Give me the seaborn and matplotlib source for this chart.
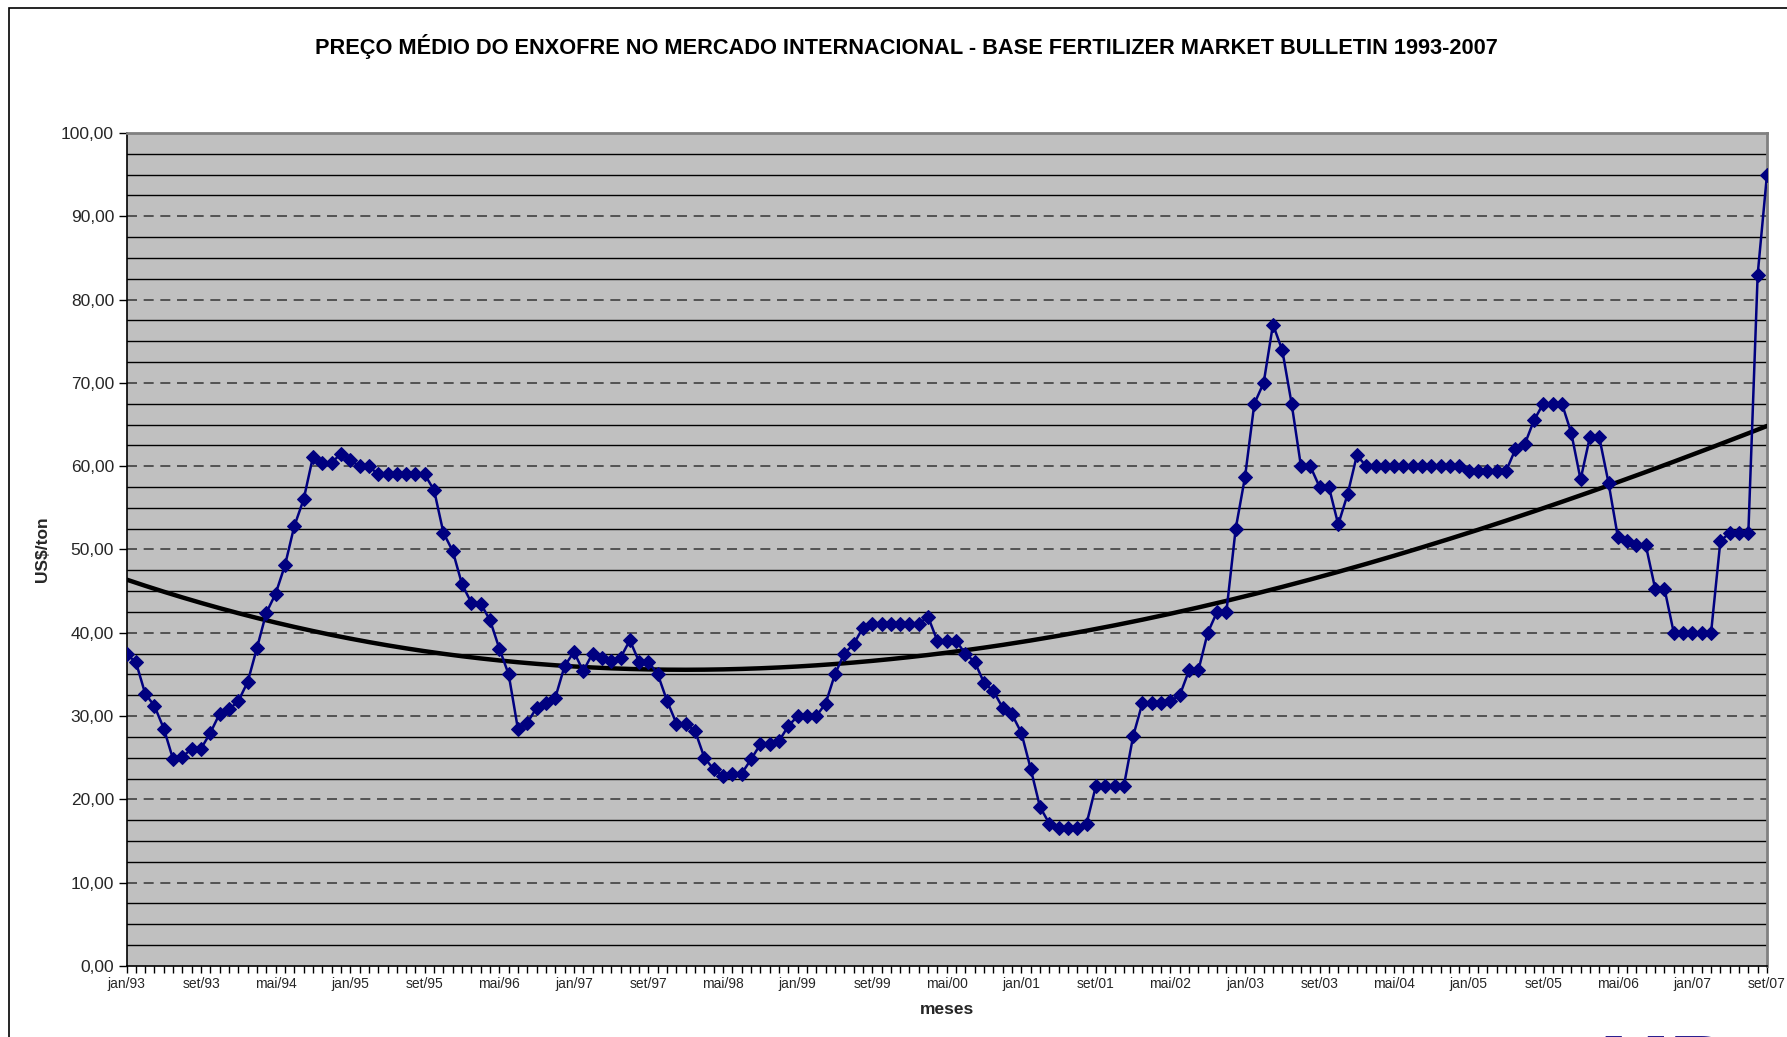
import numpy as np
import pandas as pd
import matplotlib
matplotlib.use("Agg")
import matplotlib.pyplot as plt
import matplotlib.ticker as mticker
import seaborn as sns

# Monthly sulphur price, jan/93 .. set/07 (US$/ton)
preco = [
    37.4, 36.5, 32.7, 31.2, 28.5, 24.8, 25.1, 26.1, 26.1, 28.0, 30.3, 30.8,   # 1993
    31.8, 34.1, 38.2, 42.4, 44.7, 48.1, 52.8, 56.0, 61.1, 60.4, 60.4, 61.5,   # 1994
    60.7, 60.0, 60.0, 59.0, 59.0, 59.0, 59.0, 59.0, 59.0, 57.1, 52.0, 49.8,   # 1995
    45.8, 43.6, 43.5, 41.5, 38.1, 35.0, 28.4, 29.2, 31.0, 31.6, 32.2, 36.0,   # 1996
    37.7, 35.4, 37.5, 37.0, 36.6, 37.0, 39.1, 36.5, 36.5, 35.0, 31.8, 29.1,   # 1997
    29.1, 28.2, 25.0, 23.6, 22.8, 23.1, 23.1, 24.8, 26.6, 26.6, 27.0, 28.8,   # 1998
    30.0, 30.0, 30.0, 31.5, 35.0, 37.5, 38.6, 40.6, 41.1, 41.1, 41.1, 41.1,   # 1999
    41.1, 41.1, 41.9, 39.0, 39.0, 39.0, 37.5, 36.5, 34.0, 33.0, 31.0, 30.2,   # 2000
    28.0, 23.7, 19.1, 17.1, 16.6, 16.6, 16.6, 17.1, 21.6, 21.6, 21.6, 21.6,   # 2001
    27.6, 31.6, 31.6, 31.6, 31.8, 32.5, 35.5, 35.5, 40.0, 42.5, 42.5, 52.5,   # 2002
    58.7, 67.5, 70.0, 77.0, 73.9, 67.5, 60.0, 60.0, 57.5, 57.5, 53.0, 56.6,   # 2003
    61.3, 60.0, 60.0, 60.0, 60.0, 60.0, 60.0, 60.0, 60.0, 60.0, 60.0, 60.0,   # 2004
    59.4, 59.4, 59.4, 59.4, 59.4, 62.0, 62.6, 65.5, 67.5, 67.5, 67.5, 64.0,   # 2005
    58.4, 63.5, 63.5, 58.0, 51.5, 51.0, 50.5, 50.5, 45.3, 45.3, 40.0, 40.0,   # 2006
    40.0, 40.0, 40.0, 51.0, 52.0, 52.0, 52.0, 83.0, 95.0,                     # 2007
]
meses_pt = ['jan', 'fev', 'mar', 'abr', 'mai', 'jun', 'jul', 'ago', 'set', 'out', 'nov', 'dez']
ano_inicio = 1993
passo_rotulo = 8

rotulos = [f"{meses_pt[i % 12]}/{(ano_inicio + i // 12) % 100:02d}" for i in range(len(preco))]
df = pd.DataFrame({'idx': np.arange(len(preco)), 'preco': preco, 'mes': rotulos})

# polynomial trend line (like Excel's), fitted on the data
coef = np.polyfit(df['idx'], df['preco'], 3)
df['tendencia'] = np.polyval(coef, df['idx'])

sns.set_style("white", {'axes.facecolor': '#C0C0C0'})
plt.rcParams['font.family'] = ['Liberation Sans', 'DejaVu Sans']

fig = plt.figure(figsize=(17.87, 10.37), dpi=100)
ax = fig.add_axes([0.0708, 0.0685, 0.9180, 0.8033])

# grid: dashed every 10, solid every 2.5
for v in np.arange(2.5, 100, 2.5):
    if v % 10 == 0:
        ax.axhline(v, color='#404040', lw=1.2, ls=(0, (6, 4)), zorder=1)
    else:
        ax.axhline(v, color='black', lw=1.0, zorder=1)

sns.lineplot(data=df, x='idx', y='tendencia', color='black', lw=3.2, ax=ax, zorder=3)
sns.lineplot(data=df, x='idx', y='preco', color='#000080', lw=1.8, marker='D',
             markersize=7, markeredgecolor='#000080', ax=ax, zorder=4)

ax.set_xlim(0, len(preco) - 1)
ax.set_ylim(0, 100)
ax.yaxis.set_major_locator(mticker.MultipleLocator(10))
ax.yaxis.set_major_formatter(mticker.FuncFormatter(lambda v, p: f"{v:.2f}".replace('.', ',')))
ax.set_xticks(df['idx'][::passo_rotulo])
ax.set_xticklabels(df['mes'][::passo_rotulo])
ax.xaxis.set_minor_locator(mticker.MultipleLocator(1))
ax.tick_params(axis='y', which='major', length=6, width=1, color='black', labelsize=12.5, pad=3, left=True)
ax.tick_params(axis='x', which='both', length=5, width=1, color='black', labelsize=10, pad=3, bottom=True)

for s in ['left', 'bottom']:
    ax.spines[s].set_color('black')
    ax.spines[s].set_linewidth(1.2)
for s in ['top', 'right']:
    ax.spines[s].set_color('#808080')
    ax.spines[s].set_linewidth(2)

ax.set_xlabel('meses', fontsize=12.5, fontweight='bold', labelpad=8)
ax.set_ylabel('US$/ton', fontsize=12.5, fontweight='bold', labelpad=8)

fig.text(0.507, 0.955, 'PREÇO MÉDIO DO ENXOFRE NO MERCADO INTERNACIONAL - BASE FERTILIZER MARKET BULLETIN 1993-2007',
         ha='center', va='center', fontsize=15.7, fontweight='bold', color='black')

# chart area frame and the edge of the logo cut off at the bottom
fig.patches.append(plt.Rectangle((0.005, -0.1), 1.2, 1.0923, transform=fig.transFigure,
                                 fill=False, edgecolor='black', lw=1.2))
fig.text(0.867, 0.004, 'FMB', ha='left', va='top', fontsize=60, fontweight='bold', color='#2A2090')

plt.savefig('out.png', dpi=100)
